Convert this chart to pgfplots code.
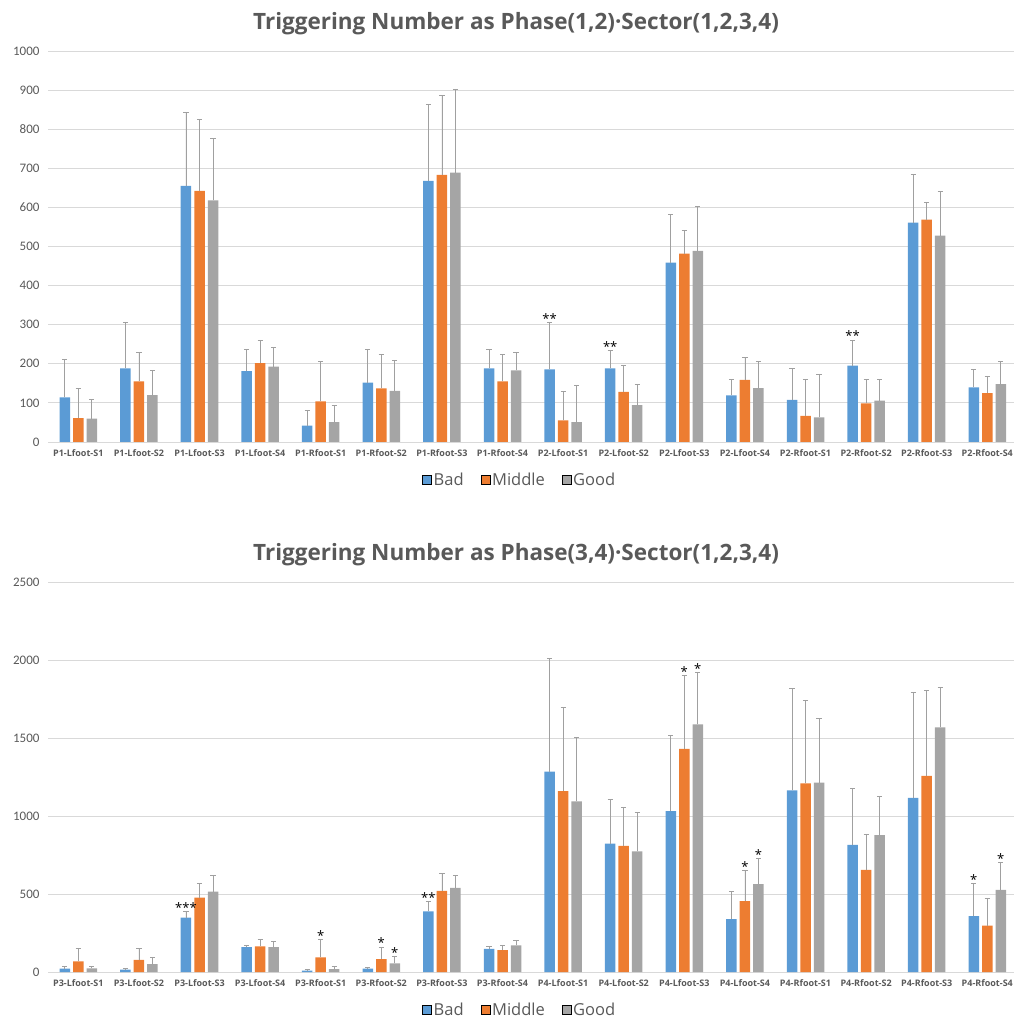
\documentclass[border=0pt]{standalone}
\usepackage{pgfplots}
\pgfplotsset{compat=1.18}
\usepackage{pgfplotstable}
\usepackage{fontspec}
\setmainfont{Open Sans}
\newfontfamily\carl{Carlito}
\definecolor{cblue}{HTML}{5B9BD5}
\definecolor{corange}{HTML}{ED7D31}
\definecolor{cgray}{HTML}{A5A5A5}
\definecolor{ebar}{HTML}{A0A0A0}
\definecolor{txt}{HTML}{595959}
\definecolor{gridc}{HTML}{D9D9D9}

\pgfplotstableread{
x b be m me g ge
0 114 96 61 77 60 48
1 188 119 155 73 120 64
2 655 189 642 182 618 158
3 181 56 202 58 193 48
4 42 39 104 102 51 43
5 152 85 137 88 131 78
6 668 195 683 203 689 214
7 188 49 155 70 183 45
8 186 120 55 75 51 93
9 188 47 128 67 94 54
10 459 123 482 60 489 114
11 119 42 159 58 138 69
12 108 81 67 92 63 111
13 195 66 99 60 106 55
14 561 123 569 43 528 112
15 140 46 125 44 148 59
}\topdata

\pgfplotstableread{
x b be m me g ge
0 21 13 68 86 23 11
1 15 8 77 77 51 45
2 348 42 476 94 516 103
3 160 13 164 47 160 38
4 9 8 94 113 19 19
5 21 9 83 77 55 47
6 388 66 520 114 540 79
7 149 17 141 32 171 34
8 1284 725 1160 538 1094 408
9 823 284 808 250 774 246
10 1032 485 1431 472 1587 333
11 339 177 454 199 563 164
12 1165 652 1209 532 1214 409
13 815 362 655 230 877 247
14 1116 674 1258 547 1568 256
15 358 212 297 177 527 173
}\botdata

\def\sh{0.2228}
\tikzset{sig/.style={font=\fontsize{13}{13}\selectfont, text=black, inner sep=0pt, yshift=4pt}}

\pgfplotsset{
  base/.style={
    scale only axis, width=969.6pt,
    xmin=-0.5, xmax=15.5, ymin=0,
    axis line style={draw=none},
    major tick length=0pt,
    ymajorgrids, grid style={gridc, line width=0.8pt},
    xtick={0,...,15},
    /pgf/number format/assume math mode=true,
    /pgf/number format/1000 sep={},
    yticklabel style={font=\carl\fontsize{13}{13}\selectfont, text=txt, xshift=-5pt},
    xticklabel style={font=\bfseries\fontsize{9}{9}\selectfont, text=txt, yshift=-4pt},
    legend style={at={(axis description cs:0.5,0)}, anchor=center, yshift=-38pt, xshift=-13pt,
      draw=none, fill=none, legend columns=3, font=\fontsize{16.5}{16.5}\selectfont, text=txt,
      /tikz/every even column/.append style={column sep=15pt}},
    legend image code/.code={\fill[##1] (0pt,-4.5pt) rectangle (9pt,4.5pt);},
  },
  bars/.style={ybar, bar width=10.5pt, bar shift=0pt, draw=none, forget plot,
    error bars/y dir=plus, error bars/y explicit,
    error bars/error bar style={ebar, line width=0.8pt},
    error bars/error mark options={rotate=90, mark size=2.6pt, ebar, line width=0.8pt}},
}

\begin{document}
\begin{tikzpicture}
\useasboundingbox (0pt,0pt) rectangle (1013pt,1021pt);

\node[font=\bfseries\fontsize{22.5}{22.5}\selectfont, text=txt] at (516pt,997pt) {Triggering Number as Phase(1,2)·Sector(1,2,3,4)};
\node[font=\bfseries\fontsize{22.5}{22.5}\selectfont, text=txt] at (516pt,466pt) {Triggering Number as Phase(3,4)·Sector(1,2,3,4)};

\begin{axis}[base, at={(48pt,579pt)}, anchor=south west, height=391pt, ymax=1000, ytick={0,100,...,1000},
  xticklabels={P1-Lfoot-S1,P1-Lfoot-S2,P1-Lfoot-S3,P1-Lfoot-S4,P1-Rfoot-S1,P1-Rfoot-S2,P1-Rfoot-S3,P1-Rfoot-S4,P2-Lfoot-S1,P2-Lfoot-S2,P2-Lfoot-S3,P2-Lfoot-S4,P2-Rfoot-S1,P2-Rfoot-S2,P2-Rfoot-S3,P2-Rfoot-S4}]
\addplot[bars, fill=cblue] table[x expr=\thisrow{x}-\sh, y=b, y error plus=be] {\topdata};
\addplot[bars, fill=corange] table[x=x, y=m, y error plus=me] {\topdata};
\addplot[bars, fill=cgray] table[x expr=\thisrow{x}+\sh, y=g, y error plus=ge] {\topdata};
\addlegendimage{fill=cblue}\addlegendentry{Bad}
\addlegendimage{fill=corange}\addlegendentry{Middle}
\addlegendimage{fill=cgray}\addlegendentry{Good}
\node[sig, xshift=-13.5pt] at (axis cs:8,306) {**};
\node[sig, xshift=-13.5pt] at (axis cs:9,235) {**};
\node[sig, xshift=-13.5pt] at (axis cs:13,261) {**};
\end{axis}

\begin{axis}[base, at={(48pt,49pt)}, anchor=south west, height=390pt, ymax=2500, ytick={0,500,...,2500},
  xticklabels={P3-Lfoot-S1,P3-Lfoot-S2,P3-Lfoot-S3,P3-Lfoot-S4,P3-Rfoot-S1,P3-Rfoot-S2,P3-Rfoot-S3,P3-Rfoot-S4,P4-Lfoot-S1,P4-Lfoot-S2,P4-Lfoot-S3,P4-Lfoot-S4,P4-Rfoot-S1,P4-Rfoot-S2,P4-Rfoot-S3,P4-Rfoot-S4}]
\addplot[bars, fill=cblue] table[x expr=\thisrow{x}-\sh, y=b, y error plus=be] {\botdata};
\addplot[bars, fill=corange] table[x=x, y=m, y error plus=me] {\botdata};
\addplot[bars, fill=cgray] table[x expr=\thisrow{x}+\sh, y=g, y error plus=ge] {\botdata};
\addlegendimage{fill=cblue}\addlegendentry{Bad}
\addlegendimage{fill=corange}\addlegendentry{Middle}
\addlegendimage{fill=cgray}\addlegendentry{Good}
\node[sig, xshift=-13.5pt] at (axis cs:2,390) {***};
\node[sig] at (axis cs:4,207) {*};
\node[sig] at (axis cs:5,160) {*};
\node[sig, xshift=13.5pt] at (axis cs:5,102) {*};
\node[sig, xshift=-13.5pt] at (axis cs:6,454) {**};
\node[sig] at (axis cs:10,1903) {*};
\node[sig, xshift=13.5pt] at (axis cs:10,1920) {*};
\node[sig] at (axis cs:11,653) {*};
\node[sig, xshift=13.5pt] at (axis cs:11,727) {*};
\node[sig, xshift=-13.5pt] at (axis cs:15,570) {*};
\node[sig, xshift=13.5pt] at (axis cs:15,700) {*};
\end{axis}
\end{tikzpicture}
\end{document}
